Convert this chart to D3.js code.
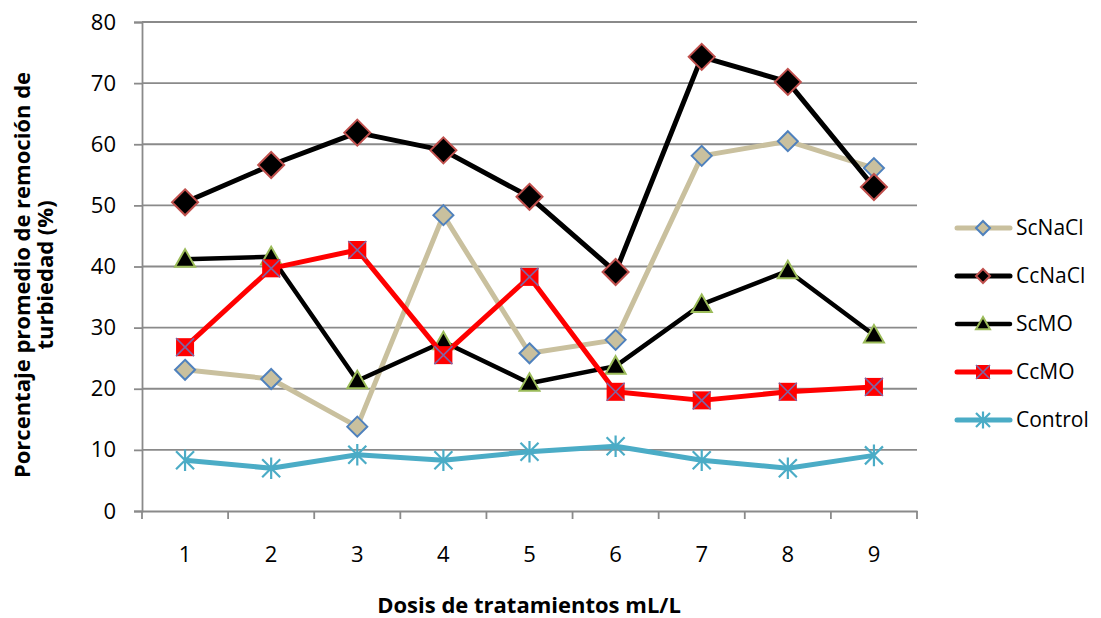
<!DOCTYPE html>
<html>
<head>
<meta charset="utf-8">
<script src="https://cdn.jsdelivr.net/npm/d3@7"></script>
<style>
  body { margin: 0; background: #fff; }
  svg { display: block; font-family: "Open Sans", "Noto Sans", sans-serif; }
</style>
</head>
<body>
<svg id="chart" width="1101" height="618"></svg>
<script>
"use strict";

var doses = [1, 2, 3, 4, 5, 6, 7, 8, 9];
var yTicks = [0, 10, 20, 30, 40, 50, 60, 70, 80];

var scNaCl = [23.1, 21.6, 13.8, 48.4, 25.8, 28.0, 58.1, 60.5, 56.1];
var ccNaCl = [50.5, 56.6, 61.9, 59.0, 51.4, 39.1, 74.3, 70.2, 53.0];
var scMO = [41.2, 41.6, 21.3, 27.7, 20.9, 23.7, 33.8, 39.3, 28.8];
var ccMO = [26.8, 39.7, 42.7, 25.5, 38.3, 19.5, 18.1, 19.5, 20.3];
var control = [8.3, 7.0, 9.2, 8.3, 9.7, 10.6, 8.3, 7.0, 9.1];

var series = [
  { name: "ScNaCl", values: scNaCl, line: "#c9c09e", width: 5, marker: "diamond", size: 10, fill: "#c9c09e", stroke: "#4f81bd" },
  { name: "CcNaCl", values: ccNaCl, line: "#000000", width: 5, marker: "diamond", size: 13, fill: "#000000", stroke: "#c0504d" },
  { name: "ScMO", values: scMO, line: "#000000", width: 4.5, marker: "triangle", size: 10, fill: "#000000", stroke: "#9bbb59" },
  { name: "CcMO", values: ccMO, line: "#ff0000", width: 5, marker: "xsquare", size: 9, fill: "#ff0000", stroke: "#8064a2" },
  { name: "Control", values: control, line: "#4bacc6", width: 5, marker: "asterisk", size: 9, fill: "none", stroke: "#4bacc6" }
];

var svg = d3.select("#chart");

var x = d3.scaleBand()
  .domain(doses)
  .range([142, 917]);

var y = d3.scaleLinear()
  .domain([0, 80])
  .range([511, 22]);

var gridColor = "#8a8a8a";

// horizontal grid lines
svg.append("g")
  .selectAll("line")
  .data(yTicks.slice(1))
  .enter()
  .append("line")
  .attr("x1", 142)
  .attr("x2", 917)
  .attr("y1", function (d) { return y(d); })
  .attr("y2", function (d) { return y(d); })
  .attr("stroke", gridColor)
  .attr("stroke-width", 1.8);

// y axis
var yAxis = d3.axisLeft(y)
  .tickValues(yTicks)
  .tickSize(8)
  .tickPadding(18);

var gy = svg.append("g")
  .attr("transform", "translate(142,0)")
  .call(yAxis);

gy.select(".domain").attr("stroke", gridColor).attr("stroke-width", 1.8);
gy.selectAll(".tick line").attr("stroke", gridColor).attr("stroke-width", 1.8);
gy.selectAll(".tick text")
  .attr("font-size", 22)
  .attr("font-family", "Open Sans, sans-serif")
  .attr("fill", "#000");

// x axis with ticks on category boundaries
var xAxis = d3.axisBottom(x)
  .tickSize(0)
  .tickPadding(35);

var gx = svg.append("g")
  .attr("transform", "translate(0,511)")
  .call(xAxis);

gx.select(".domain").attr("stroke", gridColor).attr("stroke-width", 1.8);
gx.selectAll(".tick text")
  .attr("font-size", 22)
  .attr("font-family", "Open Sans, sans-serif")
  .attr("fill", "#000");

var boundaries = doses.map(function (d) { return x(d); }).concat([x.range()[1]]);
gx.selectAll(".bound")
  .data(boundaries)
  .enter()
  .append("line")
  .attr("class", "bound")
  .attr("x1", function (d) { return d; })
  .attr("x2", function (d) { return d; })
  .attr("y1", 0)
  .attr("y2", 8)
  .attr("stroke", gridColor)
  .attr("stroke-width", 1.8);

// marker shape paths, centred on 0,0
function markerPath(type, s) {
  var p = d3.path();
  if (type === "diamond") {
    p.moveTo(0, -s); p.lineTo(s, 0); p.lineTo(0, s); p.lineTo(-s, 0); p.closePath();
  } else if (type === "triangle") {
    p.moveTo(0, -s); p.lineTo(s, s * 0.75); p.lineTo(-s, s * 0.75); p.closePath();
  } else if (type === "xsquare") {
    p.rect(-s, -s, 2 * s, 2 * s);
  }
  return p.toString();
}

function drawMarker(g, d, cx, cy) {
  var s = d.size;
  var m = g.append("g").attr("transform", "translate(" + cx + "," + cy + ")");
  if (d.marker === "asterisk") {
    m.append("path")
      .attr("d", "M" + -s + "," + -s + "L" + s + "," + s + "M" + -s + "," + s + "L" + s + "," + -s +
        "M0," + -s * 1.2 + "L0," + s * 1.2)
      .attr("stroke", d.stroke)
      .attr("stroke-width", 2.2)
      .attr("fill", "none");
    return;
  }
  m.append("path")
    .attr("d", markerPath(d.marker, s))
    .attr("fill", d.fill)
    .attr("stroke", d.marker === "xsquare" ? "none" : d.stroke)
    .attr("stroke-width", 2);
  if (d.marker === "xsquare") {
    m.append("path")
      .attr("d", "M" + -s + "," + -s + "L" + s + "," + s + "M" + -s + "," + s + "L" + s + "," + -s)
      .attr("stroke", d.stroke)
      .attr("stroke-width", 1.6);
  }
}

var line = d3.line()
  .x(function (d, i) { return x(doses[i]) + x.bandwidth() / 2; })
  .y(function (d) { return y(d); });

series.forEach(function (s) {
  var g = svg.append("g").attr("class", "series");
  g.append("path")
    .datum(s.values)
    .attr("d", line)
    .attr("fill", "none")
    .attr("stroke", s.line)
    .attr("stroke-width", s.width)
    .attr("stroke-linejoin", "round");
  s.values.forEach(function (v, i) {
    drawMarker(g, s, x(doses[i]) + x.bandwidth() / 2, y(v));
  });
});

// legend
var legend = svg.append("g");
series.forEach(function (s, i) {
  var ly = 228 + i * 48;
  var lg = legend.append("g");
  lg.append("line")
    .attr("x1", 957)
    .attr("x2", 1010)
    .attr("y1", ly)
    .attr("y2", ly)
    .attr("stroke", s.line)
    .attr("stroke-width", s.width)
    .attr("stroke-linecap", "round");
  var small = Object.assign({}, s, { size: 7 });
  drawMarker(lg, small, 983, ly);
  lg.append("text")
    .attr("x", 1016)
    .attr("y", ly)
    .attr("dy", "0.35em")
    .attr("font-size", 21)
    .attr("fill", "#000")
    .text(s.name);
});

// axis titles
svg.append("text")
  .attr("x", 529)
  .attr("y", 613)
  .attr("text-anchor", "middle")
  .attr("font-size", 22)
  .attr("font-weight", "bold")
  .text("Dosis de tratamientos mL/L");

var yt = svg.append("text")
  .attr("transform", "translate(30,275) rotate(-90)")
  .attr("text-anchor", "middle")
  .attr("font-size", 22)
  .attr("font-weight", "bold");
yt.append("tspan").attr("x", 0).attr("y", 0).text("Porcentaje promedio de remoción de");
yt.append("tspan").attr("x", 0).attr("y", 23).text("turbiedad (%)");
</script>
</body>
</html>
